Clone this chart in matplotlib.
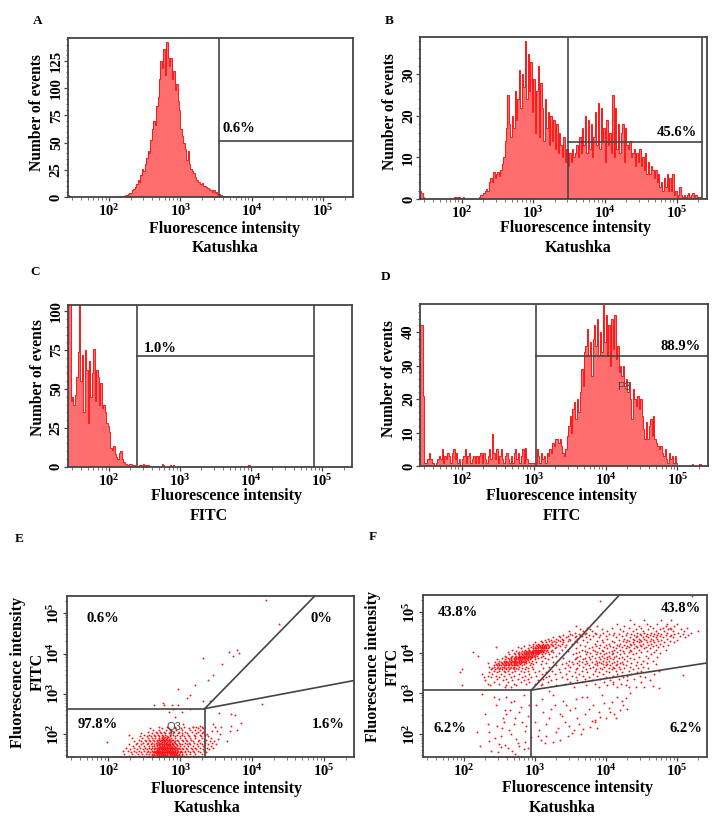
import numpy as np
import matplotlib
matplotlib.use('Agg')
import matplotlib.pyplot as plt
from matplotlib.ticker import LogLocator, MultipleLocator, NullFormatter

plt.rcParams['font.family'] = ['Liberation Serif', 'DejaVu Serif']
plt.rcParams['font.weight'] = 'bold'
plt.rcParams['mathtext.fontset'] = 'custom'
plt.rcParams['mathtext.rm'] = 'Liberation Serif:bold'
plt.rcParams['mathtext.default'] = 'regular'

W, H = 721, 824
FRAME = '#444444'
LOG_MIN, LOG_MAX = 1.42, 5.42
BIN = 0.02

# histogram counts, one value per 0.02 decade starting at log10 = 1.42
hist_a = [2, 1] + [0] * 35 + [
    1, 0, 1, 2, 2, 3, 4, 4, 6, 7, 9, 12, 16, 14, 20, 26, 24, 30, 36, 42, 40, 52, 62, 70, 66, 84, 92, 108, 125, 118,
    136, 112, 142, 128, 120, 128, 108, 116, 98, 104, 88, 80, 62, 56, 50, 44, 34, 42, 30, 26, 24, 22,
    18, 16, 14, 14, 12, 13, 10, 10, 9, 8, 7, 6, 5, 6, 4, 5, 3, 3, 2, 1, 0, 1, 0, 1, 0, 0, 0, 0, 0, 0, 1]
hist_b = [2, 1.5, 0.5] + [0] * 21 + [0.5, 0, 0.5, 0.5, 0, 0, 0.5, 0, 0, 0, 0, 0, 0, 0, 0, 0, 0] + [
    0.5, 1, 1, 1.5, 2, 2.5, 2, 4, 5, 4, 6.5, 5, 6, 6.5, 5.5, 7, 8.5, 10, 14, 17, 25, 18, 15,
    20, 17, 26, 19, 24, 31, 22, 30, 27, 38, 24, 35, 26, 33, 21, 29, 16, 26, 32, 15,
    28, 22, 14, 24, 17, 21, 13, 20, 14, 19, 12, 18, 11, 16, 13, 10, 15, 9, 12, 8,
    11, 9, 12, 10, 11, 13, 10, 15, 11, 17, 13, 20, 11, 19, 12, 18, 10, 15, 21, 13,
    23, 12, 22, 14, 17, 9, 19, 13, 16, 11, 25, 10, 22, 12, 18, 11, 16, 18, 9, 17,
    13, 12, 14, 10, 11, 12, 8, 11, 9, 12, 8, 10, 7, 11, 6, 9, 6, 8, 7, 5,
    7, 4, 6, 3, 4, 2, 5, 3, 6, 2, 5, 2, 6, 1, 2, 0.5, 1, 3, 1, 0.5,
    1, 0.5, 1, 1.5, 0.5, 1, 1.5, 0.5, 1, 0.5, 0.5, 0.5]
hist_c = [104, 104, 42, 45, 40, 46, 58, 74, 104, 55, 72, 35, 75, 62, 28, 68, 45, 60, 76, 42,
          62, 58, 40, 54, 38, 40, 35, 28, 26, 22, 12, 11, 13, 8, 6, 5, 9, 10, 5, 3,
          2, 2, 1, 2, 2, 1, 1, 0, 0, 0, 1, 1, 0, 2, 1, 0, 1, 0, 0, 0,
          0, 0, 0, 0, 0, 0, 2, 1, 0, 0, 0, 0, 1, 0, 1] + [0] * 52 + [1]
hist_d = [42, 42, 21, 1, 1, 2, 4, 2, 1, 1, 0, 1, 2, 3, 2, 5, 1, 3, 2, 4,
          3, 1, 4, 5, 2, 4, 1, 2, 0, 2, 3, 5, 1, 3, 4, 1, 2, 3, 1, 3,
          1, 3, 4, 1, 4, 2, 1, 3, 5, 2, 9.5, 4, 2, 5, 1, 3, 5, 2, 1, 3,
          4, 2, 1, 3, 1, 4, 5, 2, 4, 1, 3, 5, 1, 5.5, 2, 1, 1, 1, 1, 1,
          1, 5, 3, 1, 4, 2, 3, 1, 4, 3, 5, 4, 7, 6, 8, 8, 7, 8, 6, 4,
          3, 5, 9, 12, 15, 10, 17, 19, 14, 20, 16, 22, 29, 24, 34, 36, 41, 33, 37, 27,
          38, 42, 36, 44, 33, 40, 34, 48, 37, 45, 33, 42, 30, 44, 35, 45, 32, 36, 28, 30,
          27, 30, 24, 26, 22, 25, 20, 14, 23, 20, 18, 21, 17, 20, 15, 11, 8, 13, 8, 12,
          14, 9, 15, 8, 7, 6, 5, 6, 4, 3, 5, 2, 1, 4, 2, 3, 1, 3, 1, 0,
          0, 0, 0, 0, 0, 0, 0, 0, 0, 0.5, 0, 0, 0, 0, 0.5]

# gates as (log10 x start, log10 x end, count level)
gate_a = [3.54, 5.42, 51.8]
gate_b = [3.49, 5.36, 13.8]
gate_c = [2.394, 4.88, 71.5]
gate_d = [3.03, 5.42, 33.0]

# scatter E, dense part: one y level (log10) with its x values (log10)
e_levels = [1.42, 1.46, 1.50, 1.54, 1.58, 1.62, 1.66, 1.70, 1.74, 1.78, 1.82, 1.86, 1.90, 1.94, 1.98, 2.02, 2.06, 2.10, 2.14, 2.18]
e_rows = [
    [1.5, 1.9, 2.0, 2.08, 2.12, 2.16, 2.2, 2.25, 2.3, 2.36, 2.42, 2.47, 2.53, 2.58, 2.62, 2.66, 2.7, 2.74, 2.78, 2.82, 2.86, 2.9, 2.95, 3.0, 3.06, 3.12, 3.2],
    [2.28, 2.37, 2.44, 2.5, 2.55, 2.6, 2.63, 2.66, 2.69, 2.72, 2.75, 2.78, 2.81, 2.84, 2.87, 2.9, 2.93, 2.96, 3.0, 3.05, 3.09, 3.17, 3.25, 3.34],
    [2.22, 2.33, 2.41, 2.47, 2.52, 2.56, 2.6, 2.64, 2.67, 2.7, 2.73, 2.76, 2.79, 2.82, 2.85, 2.88, 2.91, 2.94, 2.98, 3.03, 3.08, 3.14, 3.21, 3.3],
    [2.31, 2.39, 2.46, 2.53, 2.58, 2.62, 2.65, 2.68, 2.71, 2.74, 2.77, 2.8, 2.83, 2.86, 2.89, 2.92, 2.95, 2.99, 3.02, 3.07, 3.13, 3.19, 3.28, 3.36],
    [2.2, 2.27, 2.36, 2.43, 2.49, 2.55, 2.6, 2.63, 2.66, 2.69, 2.72, 2.75, 2.78, 2.81, 2.84, 2.87, 2.9, 2.93, 2.97, 3.01, 3.06, 3.11, 3.18, 3.24, 3.33],
    [2.3, 2.4, 2.48, 2.54, 2.59, 2.63, 2.67, 2.7, 2.73, 2.76, 2.79, 2.82, 2.85, 2.88, 2.91, 2.95, 3.0, 3.04, 3.1, 3.16, 3.22, 3.31, 3.4],
    [2.25, 2.35, 2.44, 2.51, 2.57, 2.61, 2.65, 2.68, 2.71, 2.74, 2.77, 2.8, 2.83, 2.86, 2.89, 2.93, 2.97, 3.02, 3.08, 3.15, 3.2, 3.27, 3.37, 3.46],
    [2.34, 2.42, 2.5, 2.56, 2.6, 2.64, 2.68, 2.72, 2.75, 2.78, 2.81, 2.84, 2.87, 2.91, 2.96, 3.0, 3.05, 3.11, 3.18, 3.25, 3.32, 3.42],
    [2.29, 2.38, 2.46, 2.53, 2.59, 2.63, 2.67, 2.7, 2.74, 2.77, 2.8, 2.83, 2.86, 2.9, 2.94, 2.99, 3.03, 3.09, 3.14, 3.23, 3.3, 3.39, 3.5],
    [2.4, 2.48, 2.55, 2.61, 2.66, 2.7, 2.73, 2.77, 2.8, 2.84, 2.88, 2.93, 2.98, 3.06, 3.12, 3.19, 3.28, 3.35, 3.44],
    [2.36, 2.45, 2.52, 2.58, 2.63, 2.68, 2.72, 2.76, 2.79, 2.83, 2.87, 2.92, 2.97, 3.04, 3.1, 3.17, 3.24, 3.33, 3.47],
    [2.43, 2.51, 2.57, 2.62, 2.67, 2.71, 2.75, 2.79, 2.84, 2.89, 2.95, 3.02, 3.08, 3.15, 3.26, 3.36],
    [2.33, 2.47, 2.55, 2.6, 2.65, 2.7, 2.74, 2.78, 2.82, 2.87, 2.93, 2.99, 3.07, 3.13, 3.21, 3.3, 3.43],
    [2.44, 2.53, 2.59, 2.65, 2.71, 2.76, 2.81, 2.86, 2.92, 3.0, 3.05, 3.12, 3.2, 3.29, 3.38],
    [2.28, 2.5, 2.57, 2.63, 2.69, 2.74, 2.79, 2.85, 2.9, 2.96, 3.03, 3.11, 3.19, 3.27, 3.35],
    [2.46, 2.6, 2.68, 2.73, 2.79, 2.84, 2.9, 2.97, 3.02, 3.1, 3.22, 3.3],
    [2.55, 2.66, 2.72, 2.78, 2.85, 2.91, 2.98, 3.06, 3.16, 3.25, 3.32],
    [2.62, 2.71, 2.8, 2.86, 2.94, 3.03, 3.14, 3.21, 3.28],
    [2.58, 2.75, 2.84, 2.93, 3.01, 3.12, 3.24, 3.31],
    [2.7, 2.82, 2.92, 3.05, 3.17, 3.22, 3.3],
]
# scatter E, second pass over the solid core
e_core_levels = [1.44, 1.48, 1.52, 1.56, 1.6, 1.64, 1.68, 1.72, 1.76, 1.8, 1.84, 1.88, 1.92]
e_core_rows = [
    [2.62, 2.65, 2.68, 2.71, 2.74, 2.77, 2.8, 2.83, 2.86, 2.89, 2.92, 2.95, 2.99],
    [2.6, 2.64, 2.67, 2.7, 2.73, 2.76, 2.79, 2.82, 2.85, 2.88, 2.91, 2.94, 2.97, 3.02],
    [2.66, 2.69, 2.72, 2.75, 2.78, 2.81, 2.84, 2.87, 2.9, 2.93, 2.96],
    [2.63, 2.67, 2.7, 2.73, 2.76, 2.79, 2.82, 2.85, 2.88, 2.91, 2.95, 2.99],
    [2.68, 2.71, 2.74, 2.77, 2.8, 2.83, 2.86, 2.89, 2.92, 2.96],
    [2.65, 2.69, 2.72, 2.75, 2.78, 2.81, 2.84, 2.87, 2.9, 2.94, 2.98],
    [2.7, 2.73, 2.76, 2.79, 2.82, 2.85, 2.88, 2.92],
    [2.67, 2.71, 2.74, 2.77, 2.8, 2.83, 2.86, 2.9, 2.95],
    [2.72, 2.75, 2.78, 2.81, 2.84, 2.88],
    [2.69, 2.74, 2.78, 2.82, 2.86, 2.91],
    [2.73, 2.77, 2.81, 2.85, 2.9],
    [2.71, 2.76, 2.8, 2.84],
    [2.75, 2.79, 2.83],
]
# scatter E, isolated points
e_x = [4.19, 4.37, 3.32, 3.58, 3.68, 3.79, 3.73, 3.82, 3.46, 3.38, 3.2, 2.97, 3.13, 3.1, 3.32, 3.41, 2.63, 2.76, 2.77, 2.89,
       2.97, 2.84, 2.9, 4.13, 3.54, 3.7, 3.76, 3.84, 3.71, 3.69, 3.79, 3.65, 3.46, 3.48, 3.44, 3.51, 3.55, 3.41, 3.57, 3.37,
       3.53, 1.98, 2.93, 3.02, 3.13, 3.04, 3.27, 3.18]
e_y = [5.32, 4.74, 3.88, 3.73, 4.04, 4.08, 3.93, 4.02, 3.46, 3.33, 3.21, 3.11, 2.96, 2.89, 2.83, 2.83, 2.73, 2.78, 2.73, 2.73,
       2.71, 2.54, 2.63, 2.75, 2.52, 2.5, 2.48, 2.27, 2.21, 2.08, 2.1, 1.83, 2.25, 2.17, 2.08, 2.08, 2.0, 1.83, 2.17, 2.0,
       1.88, 1.79, 2.42, 2.54, 2.63, 2.25, 2.21, 2.17]

# scatter F, upper clouds: one y level (log10) with its x values (log10)
f_levels = [3.15, 3.2, 3.24, 3.28, 3.32, 3.36, 3.4, 3.44, 3.48, 3.52, 3.56, 3.6, 3.63, 3.66, 3.69, 3.72, 3.75, 3.78, 3.81, 3.84,
            3.87, 3.9, 3.93, 3.96, 3.99, 4.02, 4.05, 4.08, 4.11, 4.14, 4.17, 4.2, 4.23, 4.26, 4.29, 4.32, 4.35, 4.38, 4.41, 4.44,
            4.47, 4.5, 4.54, 4.58, 4.62, 4.67, 4.72, 4.8]
f_rows = [
    [2.58, 2.66, 3.55, 3.9, 4.15, 4.33, 4.42],
    [2.37, 2.6, 2.74, 3.08, 3.3, 3.72, 4.02, 4.28],
    [2.34, 2.5, 2.7, 2.88, 3.0, 3.1, 3.42, 3.85, 4.21],
    [2.42, 2.62, 2.8, 2.92, 3.18, 3.5, 3.66, 3.98, 4.1, 4.5],
    [2.3, 2.55, 2.68, 2.85, 3.05, 3.22, 3.6, 3.8, 4.06, 4.3, 4.62],
    [2.46, 2.6, 2.76, 2.9, 3.12, 3.3, 3.45, 3.7, 3.92, 4.18, 4.4],
    [2.28, 2.38, 2.5, 2.66, 2.82, 2.94, 3.16, 3.38, 3.58, 3.76, 4.0, 4.24, 4.55],
    [2.34, 2.45, 2.57, 2.7, 2.86, 3.02, 3.2, 3.52, 3.68, 3.88, 4.1, 4.3, 4.48],
    [2.26, 2.4, 2.52, 2.63, 2.78, 2.92, 3.1, 3.28, 3.44, 3.62, 3.82, 3.96, 4.16, 4.36, 4.68],
    [2.36, 2.47, 2.58, 2.68, 2.84, 3.0, 3.15, 3.36, 3.56, 3.74, 3.9, 4.05, 4.22, 4.44],
    [2.42, 2.5, 2.56, 2.62, 2.72, 2.8, 2.9, 3.06, 3.24, 3.48, 3.66, 3.84, 4.0, 4.14, 4.32, 4.5, 4.75],
    [2.38, 2.44, 2.49, 2.54, 2.59, 2.64, 2.7, 2.76, 2.86, 2.98, 3.34, 3.58, 3.72, 3.86, 3.94, 4.08, 4.2, 4.38],
    [2.4, 2.46, 2.51, 2.56, 2.6, 2.65, 2.69, 2.74, 2.82, 2.9, 3.12, 3.42, 3.6, 3.78, 3.92, 4.04, 4.12, 4.26, 4.45, 4.6],
    [2.36, 2.43, 2.48, 2.53, 2.57, 2.62, 2.66, 2.71, 2.77, 2.88, 2.96, 3.2, 3.5, 3.68, 3.82, 3.98, 4.1, 4.18, 4.34, 4.52],
    [2.42, 2.47, 2.52, 2.56, 2.6, 2.64, 2.68, 2.72, 2.76, 2.82, 2.93, 3.3, 3.46, 3.62, 3.76, 3.88, 4.0, 4.06, 4.14, 4.28, 4.42],
    [2.45, 2.5, 2.55, 2.59, 2.63, 2.67, 2.71, 2.74, 2.79, 2.85, 2.98, 3.08, 3.38, 3.54, 3.7, 3.84, 3.96, 4.02, 4.16, 4.24, 4.5, 4.7],
    [2.34, 2.48, 2.53, 2.58, 2.62, 2.66, 2.7, 2.73, 2.77, 2.81, 2.87, 2.94, 3.16, 3.44, 3.6, 3.74, 3.88, 3.93, 4.08, 4.2, 4.36, 4.58],
    [2.44, 2.52, 2.57, 2.61, 2.65, 2.69, 2.72, 2.75, 2.78, 2.82, 2.86, 2.92, 3.02, 3.26, 3.52, 3.66, 3.8, 3.9, 4.0, 4.12, 4.22, 4.44],
    [2.5, 2.56, 2.6, 2.64, 2.68, 2.71, 2.74, 2.77, 2.8, 2.83, 2.88, 2.96, 3.1, 3.48, 3.62, 3.72, 3.86, 3.96, 4.04, 4.16, 4.3, 4.52, 4.66],
    [2.47, 2.58, 2.63, 2.67, 2.7, 2.73, 2.76, 2.79, 2.82, 2.85, 2.89, 2.93, 3.0, 3.18, 3.56, 3.68, 3.78, 3.92, 4.02, 4.1, 4.26, 4.4],
    [2.53, 2.62, 2.66, 2.7, 2.73, 2.76, 2.79, 2.82, 2.85, 2.88, 2.91, 2.95, 3.04, 3.14, 3.4, 3.58, 3.7, 3.84, 3.98, 4.06, 4.18, 4.34, 4.6],
    [2.6, 2.66, 2.72, 2.76, 2.79, 2.82, 2.85, 2.87, 2.9, 2.93, 2.96, 3.0, 3.08, 3.24, 3.6, 3.76, 3.9, 4.02, 4.12, 4.22, 4.46, 4.72],
    [2.58, 2.68, 2.74, 2.78, 2.81, 2.84, 2.87, 2.9, 2.93, 2.96, 2.99, 3.03, 3.12, 3.3, 3.64, 3.8, 3.94, 4.04, 4.14, 4.3, 4.56],
    [2.64, 2.72, 2.78, 2.82, 2.86, 2.89, 2.92, 2.95, 2.98, 3.01, 3.05, 3.1, 3.2, 3.54, 3.72, 3.86, 3.98, 4.08, 4.2, 4.38, 4.64],
    [2.7, 2.76, 2.8, 2.85, 2.88, 2.91, 2.94, 2.97, 3.0, 3.03, 3.06, 3.14, 3.34, 3.58, 3.78, 3.92, 4.0, 4.1, 4.26, 4.42, 4.76],
    [2.62, 2.78, 2.84, 2.89, 2.93, 2.96, 2.99, 3.02, 3.05, 3.08, 3.12, 3.18, 3.26, 3.62, 3.74, 3.88, 4.04, 4.16, 4.32, 4.5, 4.68],
    [2.74, 2.82, 2.88, 2.92, 2.96, 3.0, 3.03, 3.06, 3.09, 3.12, 3.16, 3.22, 3.46, 3.7, 3.84, 3.96, 4.08, 4.24, 4.36, 4.58],
    [2.68, 2.86, 2.92, 2.97, 3.0, 3.04, 3.07, 3.1, 3.13, 3.17, 3.24, 3.38, 3.66, 3.82, 3.94, 4.12, 4.2, 4.34, 4.46, 4.7, 4.84],
    [2.8, 2.9, 2.98, 3.02, 3.05, 3.08, 3.11, 3.14, 3.18, 3.28, 3.58, 3.76, 3.9, 4.02, 4.14, 4.28, 4.4, 4.54, 4.62],
    [2.76, 2.94, 3.0, 3.04, 3.07, 3.1, 3.13, 3.16, 3.2, 3.3, 3.42, 3.8, 3.98, 4.1, 4.22, 4.32, 4.44, 4.56, 4.74],
    [2.85, 2.98, 3.03, 3.07, 3.1, 3.13, 3.16, 3.2, 3.26, 3.36, 3.7, 3.86, 4.06, 4.18, 4.3, 4.42, 4.5, 4.66, 4.8],
    [2.92, 3.02, 3.06, 3.1, 3.14, 3.18, 3.24, 3.32, 3.44, 3.64, 3.92, 4.0, 4.16, 4.26, 4.36, 4.48, 4.6, 4.7, 4.88],
    [2.97, 3.05, 3.12, 3.17, 3.22, 3.28, 3.38, 3.52, 3.84, 4.04, 4.2, 4.34, 4.4, 4.52, 4.64, 4.76],
    [3.0, 3.1, 3.16, 3.24, 3.3, 3.4, 3.6, 3.74, 3.96, 4.12, 4.28, 4.38, 4.46, 4.58, 4.68, 4.82, 4.96],
    [3.08, 3.2, 3.27, 3.35, 3.46, 3.56, 3.88, 4.08, 4.24, 4.32, 4.44, 4.5, 4.62, 4.74, 4.9],
    [3.14, 3.22, 3.32, 3.4, 3.5, 3.68, 3.94, 4.18, 4.3, 4.4, 4.48, 4.56, 4.66, 4.78, 5.0],
    [3.18, 3.3, 3.38, 3.48, 3.6, 3.78, 4.02, 4.26, 4.38, 4.46, 4.54, 4.64, 4.72, 4.86],
    [3.26, 3.36, 3.44, 3.56, 3.72, 3.9, 4.14, 4.34, 4.42, 4.52, 4.6, 4.7, 4.8, 4.94, 5.12],
    [3.34, 3.46, 3.58, 3.66, 3.82, 4.0, 4.22, 4.44, 4.56, 4.66, 4.76, 4.9, 5.04],
    [3.4, 3.52, 3.64, 3.76, 3.92, 4.1, 4.28, 4.4, 4.5, 4.62, 4.72, 4.84, 4.92, 5.16],
    [3.5, 3.62, 3.7, 3.86, 4.04, 4.18, 4.36, 4.48, 4.58, 4.68, 4.78, 4.96, 5.08],
    [3.56, 3.72, 3.84, 3.96, 4.12, 4.3, 4.44, 4.54, 4.64, 4.74, 4.86, 5.02, 5.2],
    [3.48, 3.68, 3.8, 4.02, 4.24, 4.38, 4.52, 4.7, 4.82, 4.94, 5.1, 5.3],
    [3.64, 3.78, 3.94, 4.2, 4.42, 4.6, 4.76, 4.88, 4.92, 5.06],
    [3.74, 4.08, 4.32, 4.5, 4.66, 4.8, 4.9, 5.14],
    [3.58, 3.88, 4.26, 4.46, 4.62, 4.84, 4.96],
    [4.16, 4.4, 4.58, 4.72, 4.86, 5.0],
    [4.34, 4.54, 4.78, 4.92],
]
# scatter F, second pass over the blob left of the diagonal
f_core_levels = [3.71, 3.77, 3.83, 3.89, 3.95, 4.01, 4.07, 4.13, 4.19]
f_core_rows = [
    [2.5, 2.58, 2.62, 2.7, 2.75],
    [2.6, 2.66, 2.7, 2.75, 2.8, 2.84],
    [2.66, 2.72, 2.77, 2.81, 2.86, 2.9],
    [2.72, 2.78, 2.83, 2.86, 2.9, 2.94],
    [2.78, 2.83, 2.87, 2.92, 2.96, 3.0],
    [2.85, 2.9, 2.94, 2.98, 3.03, 3.07],
    [2.92, 2.97, 3.01, 3.05, 3.09, 3.13],
    [3.0, 3.04, 3.08, 3.12, 3.15],
    [3.06, 3.1, 3.14],
]
# scatter F, lower sparse points and outliers
f_x = [1.94, 1.97, 1.98, 2.13, 2.2, 2.45, 2.25, 3.92, 5.21, 5.42, 5.08, 4.53, 4.66, 4.75, 4.1, 3.2,
       2.3, 2.42, 2.45, 2.5, 2.55, 2.6, 2.65, 2.7, 2.78, 2.85, 2.92, 2.18, 2.22, 2.34, 2.36, 2.38, 2.47, 2.52, 2.58, 2.63, 2.67, 2.72, 2.8, 2.88,
       2.36, 2.44, 2.5, 2.56, 2.6, 2.66, 2.74, 2.82, 2.9, 2.48, 2.54, 2.62, 2.7, 2.78, 2.86, 2.94, 2.42, 2.52, 2.6, 2.68, 2.76, 2.84,
       2.64, 2.72, 2.8, 2.86, 2.68, 2.76, 2.52, 2.58, 2.9,
       3.02, 3.06, 3.08, 3.12, 3.15, 3.2, 3.25, 3.28, 3.3, 3.35, 3.4, 3.42, 3.46, 3.5, 3.55, 3.58, 3.62, 3.65, 3.7, 3.74, 3.78, 3.82, 3.85, 3.9, 3.95, 4.0, 4.04, 4.08, 4.12, 4.16, 4.2, 4.24, 4.28, 4.34,
       3.04, 3.1, 3.16, 3.22, 3.32, 3.38, 3.44, 3.52, 3.6, 3.68, 3.76, 3.84, 3.92, 3.98, 4.06, 4.14, 4.22, 4.3, 3.0, 3.14, 3.26, 3.36, 3.48, 3.57, 3.66, 3.8, 3.88]
f_y = [3.52, 3.6, 3.2, 4.03, 3.93, 4.14, 2.98, 5.28, 5.4, 4.57, 3.46, 3.15, 3.18, 3.14, 3.22, 3.05,
       2.5, 2.9, 2.7, 2.85, 2.4, 2.92, 2.6, 2.8, 2.55, 2.95, 2.72, 2.05, 1.7, 2.25, 1.82, 1.58, 2.2, 1.95, 2.6, 2.1, 2.78, 2.38, 2.66, 2.2,
       2.05, 1.9, 1.75, 2.3, 2.5, 2.0, 1.88, 2.3, 2.45, 1.55, 2.15, 1.65, 2.25, 1.7, 2.08, 1.92, 1.42, 1.42, 1.42, 1.42, 1.46, 1.62,
       1.42, 1.5, 1.42, 1.8, 1.58, 1.78, 1.68, 1.72, 1.65,
       2.7, 2.1, 1.85, 2.55, 1.95, 2.4, 1.8, 2.7, 2.05, 1.85, 2.8, 2.3, 1.95, 2.6, 2.1, 2.85, 2.25, 2.0, 2.5, 2.9, 2.18, 2.7, 2.35, 2.55, 2.95, 2.4, 2.65, 2.78, 2.48, 2.92, 2.6, 2.72, 2.88, 3.0,
       1.95, 2.85, 2.25, 2.62, 2.15, 2.45, 2.72, 2.02, 2.4, 2.12, 2.62, 2.3, 2.42, 2.75, 2.55, 2.38, 2.8, 2.62, 2.28, 1.78, 2.95, 2.5, 2.2, 2.65, 2.9, 2.32, 2.15]

# quadrant gates in log10 units: centre point and the two diagonal ends
quad_e = [3.34, 2.63, 4.87, 5.43, 5.42, 3.33]
quad_f = [2.95, 3.08, 4.19, 5.43, 5.42, 3.75]

power_labels = [r'$10^{2}$', r'$10^{3}$', r'$10^{4}$', r'$10^{5}$']
power_values = [1e2, 1e3, 1e4, 1e5]

fig = plt.figure(figsize=(W / 100, H / 100), dpi=100, facecolor='white')


def new_axes(left, top, right, bottom):
    ax = fig.add_axes([left / W, 1 - bottom / H, (right - left) / W, (bottom - top) / H])
    for s in ax.spines.values():
        s.set_color(FRAME)
        s.set_linewidth(1.3)
    ax.set_xscale('log')
    ax.set_xlim(10 ** LOG_MIN, 10 ** LOG_MAX)
    ax.set_xticks(power_values, power_labels)
    ax.xaxis.set_minor_locator(LogLocator(base=10, subs=range(2, 10), numticks=12))
    ax.xaxis.set_minor_formatter(NullFormatter())
    ax.tick_params(axis='both', which='major', length=3, width=0.9, color=FRAME, labelsize=10.5)
    ax.tick_params(axis='x', which='major', pad=1.5)
    ax.tick_params(axis='y', which='major', pad=0.5)
    ax.tick_params(axis='both', which='minor', length=1.8, width=0.7, color='#777777')
    return ax


def histogram(ax, counts, ymax, yticks, yminor, gate, upper=None):
    edges = 10 ** (LOG_MIN + BIN * np.arange(len(counts) + 1))
    ax.stairs(counts, edges, baseline=0, fill=True, color='#ff6e6e', lw=0)
    ax.stairs(counts, edges, baseline=0, fill=False, color='#ff1818', lw=0.7)
    ax.set_ylim(0, ymax)
    ax.set_yticks(yticks, [str(v) for v in yticks], rotation=90, va='center')
    ax.yaxis.set_minor_locator(MultipleLocator(yminor))
    x0, x1, level = 10 ** gate[0], 10 ** gate[1], gate[2]
    ax.plot([x0, x0], [0, ymax], color=FRAME, lw=1.2, zorder=5)
    ax.plot([x0, x1], [level, level], color=FRAME, lw=1.2, zorder=5)
    if upper:
        ax.plot([10 ** upper, 10 ** upper], [0, ymax], color=FRAME, lw=1.2, zorder=5)


def scatter(ax, levels, rows, xs, ys, quad):
    px = [v for row in rows for v in row] + xs
    py = [lv for lv, row in zip(levels, rows) for _ in row] + ys
    dots, = ax.plot(10 ** np.array(px), 10 ** np.array(py), ls='none', marker='o', ms=1.35, mew=0, color='#ff1010')
    dots.set_snap(False)
    ax.set_yscale('log')
    ax.set_ylim(10 ** LOG_MIN, 10 ** 5.43)
    ax.set_yticks(power_values, power_labels, rotation=90, va='center')
    ax.yaxis.set_minor_locator(LogLocator(base=10, subs=range(2, 10), numticks=12))
    ax.yaxis.set_minor_formatter(NullFormatter())
    cx, cy, ux, uy, rx, ry = 10.0 ** np.array(quad)
    ax.plot([10 ** LOG_MIN, cx], [cy, cy], color=FRAME, lw=1.2, zorder=5)
    ax.plot([cx, cx], [10 ** LOG_MIN, cy], color=FRAME, lw=1.2, zorder=5)
    ax.plot([cx, ux], [cy, uy], color=FRAME, lw=1.2, zorder=5)
    ax.plot([cx, rx], [cy, ry], color=FRAME, lw=1.2, zorder=5)


def label(x, y, s, size=11.5, rotation=0, **kw):
    fig.text(x / W, 1 - y / H, s, fontsize=size, rotation=rotation, ha='center', va='center', **kw)


ax_a = new_axes(67.7, 38, 353, 197)
histogram(ax_a, hist_a, 146, [0, 25, 50, 75, 100, 125], 5, gate_a)
ax_b = new_axes(420, 37, 706.7, 199)
histogram(ax_b, hist_b, 39, [0, 10, 20, 30], 2, gate_b, upper=5.36)
ax_c = new_axes(67.7, 305, 352, 466.7)
histogram(ax_c, hist_c, 104, [0, 25, 50, 75, 100], 5, gate_c, upper=4.88)
ax_d = new_axes(420, 303.7, 707.7, 466)
histogram(ax_d, hist_d, 48.5, [0, 10, 20, 30, 40], 2, gate_d)
ax_e = new_axes(66.7, 596, 354.3, 757.3)
scatter(ax_e, e_levels + e_core_levels, e_rows + e_core_rows, e_x, e_y, quad_e)
ax_e.plot([10 ** 2.88, 10 ** 2.87], [10 ** 2.08, 10 ** 1.96], color=FRAME, lw=0.7, zorder=5)
ax_f = new_axes(422.7, 595, 706.7, 757.3)
scatter(ax_f, f_levels + f_core_levels, f_rows + f_core_rows, f_x, f_y, quad_f)

# panel letters
label(38, 21, 'A', 9.5)
label(389, 21, 'B', 9.5)
label(35, 272, 'C', 9.5)
label(386, 277, 'D', 9.5)
label(19, 539, 'E', 9.5)
label(373, 537, 'F', 9.5)

# axis titles
x_title = 'Fluorescence intensity'
for cx, cy, name, nx in [(225, 229, 'Katushka', 225), (576, 228, 'Katushka', 578), (226, 496, 'FITC', 209),
                         (562, 496, 'FITC', 562), (226, 789, 'Katushka', 207), (577, 788, 'Katushka', 562)]:
    label(cx, cy, x_title)
    label(nx, cy + 19.5, name)
for x, y in [(37, 113), (390, 112), (38, 378), (389, 379)]:
    label(x, y, 'Number of events', 11.2, rotation=90)
label(18, 672, x_title, rotation=90)
label(38, 672, 'FITC', rotation=90)
label(373, 667, x_title, rotation=90)
label(393, 667, 'FITC', rotation=90)

# gate percentages
for x, y, s in [(239, 129, '0.6%'), (677, 133, '45.6%'), (160, 348, '1.0%'), (681, 347, '88.9%'),
                (103, 618, '0.6%'), (321, 618, '0%'), (98, 725, '97.8%'), (328, 725, '1.6%'),
                (458, 613, '43.8%'), (681, 609, '43.8%'), (450, 729, '6.2%'), (686, 729, '6.2%')]:
    label(x, y, s, 10.5)

# gate names left by the cytometer software
fig.text(624 / W, 1 - 387 / H, 'P3', fontsize=8, family='Liberation Sans', weight='normal', color='#444444', ha='center', va='center', zorder=6)
fig.text(174 / W, 1 - 727 / H, 'Q3', fontsize=8, family='Liberation Sans', weight='normal', color='#444444', ha='center', va='center', zorder=6)

fig.savefig('out.png', dpi=100)
